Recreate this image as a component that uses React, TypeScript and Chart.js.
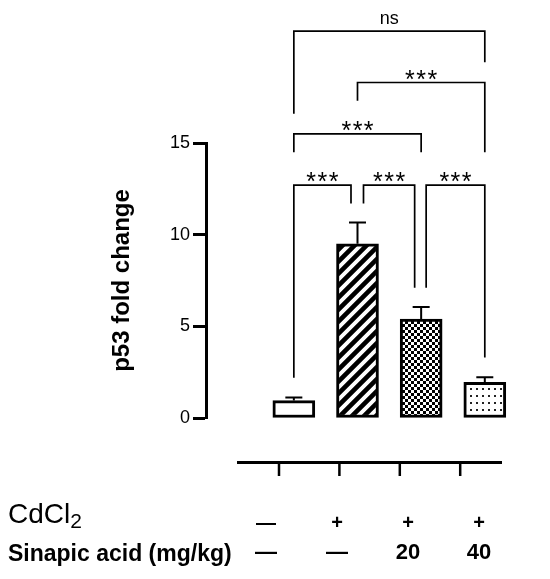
import { useEffect, useRef } from "react";
import { Chart, registerables } from "chart.js";

Chart.register(...registerables);

// ---- data ----
const GROUPS = ["Control", "CdCl2", "CdCl2 + SA 20", "CdCl2 + SA 40"];
const MEANS = [0.95, 9.5, 5.4, 1.95];
const SEMS = [0.17, 1.16, 0.65, 0.27];
const Y_TICKS = [0, 5, 10, 15];
const CDCL2_ROW = ["—", "+", "+", "+"];
const SA_ROW = ["—", "—", "20", "40"];
const ROW_TITLES = ["CdCl", "Sinapic acid (mg/kg)"];
const Y_TITLE = "p53 fold change";

// significance comparisons (group indices, bracket level & leg ends in data units)
const COMPARE_A = [0, 1, 2, 0, 1, 0];
const COMPARE_B = [1, 2, 3, 2, 3, 3];
const COMPARE_LABEL = ["***", "***", "***", "***", "***", "ns"];
const COMPARE_LEVEL = [12.7, 12.7, 12.7, 15.5, 18.3, 21.1];
const LEG_END_A = [2.2, 11.7, 7.1, 14.5, 17.3, 16.6];
const LEG_END_B = [11.7, 7.1, 3.3, 14.5, 14.5, 19.4];

// ---- styles ----
const FONT = "'Liberation Sans', Arial, Helvetica, sans-serif";
const LEG_OFFSET_A = [0, 6, 5, 0, 0, 0];
const LEG_OFFSET_B = [-6.5, -6.5, 0, 0, 0, 0];

function makePattern(kind: string): CanvasPattern | string {
  const c = document.createElement("canvas");
  const ctx = c.getContext("2d")!;
  if (kind === "stripes") {
    c.width = 12; c.height = 12;
    ctx.fillStyle = "#fff"; ctx.fillRect(0, 0, 12, 12);
    ctx.strokeStyle = "#000"; ctx.lineWidth = 4.6;
    ctx.beginPath();
    ctx.moveTo(-1, 13); ctx.lineTo(13, -1);
    ctx.moveTo(-7, 7); ctx.lineTo(7, -7);
    ctx.moveTo(5, 19); ctx.lineTo(19, 5);
    ctx.stroke();
  } else if (kind === "checker") {
    c.width = 6; c.height = 6;
    ctx.fillStyle = "#fff"; ctx.fillRect(0, 0, 6, 6);
    ctx.fillStyle = "#000";
    ctx.fillRect(0, 0, 3, 3); ctx.fillRect(3, 3, 3, 3);
  } else if (kind === "dots") {
    c.width = 6; c.height = 7;
    ctx.fillStyle = "#fff"; ctx.fillRect(0, 0, 6, 7);
    ctx.fillStyle = "#222";
    ctx.fillRect(2, 3, 2, 2);
  } else {
    return "#fff";
  }
  return ctx.createPattern(c, "repeat")!;
}

const annotatePlugin = {
  id: "annotate",
  afterDatasetsDraw(chart: any) {
    const { ctx, scales } = chart;
    const x = scales.x;
    const y = scales.y;
    ctx.save();
    // error bars
    ctx.strokeStyle = "#000";
    ctx.lineWidth = 2;
    MEANS.forEach((m, i) => {
      const px = x.getPixelForValue(i + 1);
      const y0 = y.getPixelForValue(m);
      const y1 = y.getPixelForValue(m + SEMS[i]);
      ctx.beginPath();
      ctx.moveTo(px, y0);
      ctx.lineTo(px, y1);
      ctx.moveTo(px - 8.5, y1);
      ctx.lineTo(px + 8.5, y1);
      ctx.stroke();
    });
    // significance brackets
    ctx.lineWidth = 1.7;
    COMPARE_A.forEach((a, k) => {
      const b = COMPARE_B[k];
      const xa = x.getPixelForValue(a + 1) + LEG_OFFSET_A[k];
      const xb = x.getPixelForValue(b + 1) + LEG_OFFSET_B[k];
      const yl = y.getPixelForValue(COMPARE_LEVEL[k]);
      const ya = y.getPixelForValue(LEG_END_A[k]);
      const yb = y.getPixelForValue(LEG_END_B[k]);
      ctx.beginPath();
      ctx.moveTo(xa, ya);
      ctx.lineTo(xa, yl);
      ctx.lineTo(xb, yl);
      ctx.lineTo(xb, yb);
      ctx.stroke();
      const label = COMPARE_LABEL[k];
      ctx.fillStyle = "#000";
      ctx.textAlign = "center";
      ctx.textBaseline = "alphabetic";
      const cx = (xa + xb) / 2;
      if (label === "ns") {
        ctx.font = `18px ${FONT}`;
        (ctx as any).letterSpacing = "0px";
        ctx.fillText(label, cx, yl - 7);
      } else {
        ctx.font = `25px ${FONT}`;
        (ctx as any).letterSpacing = "1.5px";
        ctx.fillText(label, cx + 0.75, yl + 5);
        (ctx as any).letterSpacing = "0px";
      }
    });
    ctx.restore();
  },
  afterDraw(chart: any) {
    const { ctx, chartArea } = chart;
    ctx.save();
    // bottom treatment axis
    const axisY = chartArea.bottom + 44.5;
    const axisX0 = 237;
    const axisX1 = 502;
    const tick0 = 279;
    const tickDx = 60.4;
    ctx.strokeStyle = "#000";
    ctx.lineWidth = 3;
    ctx.beginPath();
    ctx.moveTo(axisX0, axisY);
    ctx.lineTo(axisX1, axisY);
    ctx.stroke();
    ctx.lineWidth = 2.5;
    GROUPS.forEach((_, i) => {
      const tx = tick0 + tickDx * i;
      ctx.beginPath();
      ctx.moveTo(tx, axisY);
      ctx.lineTo(tx, axisY + 13.5);
      ctx.stroke();
    });
    // row titles
    ctx.fillStyle = "#000";
    ctx.textAlign = "left";
    ctx.textBaseline = "alphabetic";
    ctx.font = `28px ${FONT}`;
    ctx.fillText(ROW_TITLES[0], 8, 523);
    const w = ctx.measureText(ROW_TITLES[0]).width;
    ctx.font = `21px ${FONT}`;
    ctx.fillText("2", 8 + w, 528);
    ctx.font = `bold 23px ${FONT}`;
    ctx.fillText(ROW_TITLES[1], 8, 561);
    // row values
    const col0 = 266;
    const colDx = 71;
    ctx.textAlign = "center";
    ctx.textBaseline = "middle";
    ctx.font = `bold 20px ${FONT}`;
    CDCL2_ROW.forEach((s, i) => ctx.fillText(s, col0 + colDx * i, 523));
    ctx.font = `bold 22px ${FONT}`;
    SA_ROW.forEach((s, i) => ctx.fillText(s, col0 + colDx * i, 553));
    ctx.restore();
  },
};

export default function App() {
  const ref = useRef<HTMLCanvasElement>(null);
  useEffect(() => {
    const canvas = ref.current!;
    Chart.defaults.font.family = FONT;
    Chart.defaults.color = "#000";
    const patterns = [makePattern("none"), makePattern("stripes"), makePattern("checker"), makePattern("dots")];
    const chart = new Chart(canvas, {
      type: "bar",
      data: {
        labels: GROUPS,
        datasets: [
          {
            data: MEANS.map((m, i) => ({ x: i + 1, y: m })) as any,
            backgroundColor: patterns as any,
            borderColor: "#000",
            borderWidth: 3,
            borderSkipped: false,
            barThickness: 42,
          },
        ],
      },
      options: {
        responsive: false,
        maintainAspectRatio: false,
        devicePixelRatio: 1,
        animation: false,
        layout: { padding: { top: 143, bottom: 161, left: 108, right: 20 } },
        plugins: { legend: { display: false }, tooltip: { enabled: false } },
        scales: {
          x: { type: "linear", min: -0.38, max: 4.71, offset: false, display: false },
          y: {
            min: 0,
            max: 15,
            afterBuildTicks: (s: any) => {
              s.ticks = Y_TICKS.map((v) => ({ value: v }));
            },
            afterFit: (s: any) => {
              s.width = 98;
            },
            ticks: { font: { size: 18 }, color: "#000", padding: 3 },
            grid: { drawOnChartArea: false, tickLength: 13, tickWidth: 3, tickColor: "#000" },
            border: { width: 3, color: "#000" },
            title: {
              display: true,
              text: Y_TITLE,
              color: "#000",
              font: { size: 24, weight: "bold" },
              padding: { top: 0, bottom: 0 },
            },
          },
        },
      },
      plugins: [annotatePlugin],
    });
    return () => chart.destroy();
  }, []);
  return (
    <div style={{ position: "absolute", left: 0, top: 0, width: 550, height: 579 }}>
      <canvas ref={ref} width={550} height={579} style={{ display: "block" }} />
    </div>
  );
}
